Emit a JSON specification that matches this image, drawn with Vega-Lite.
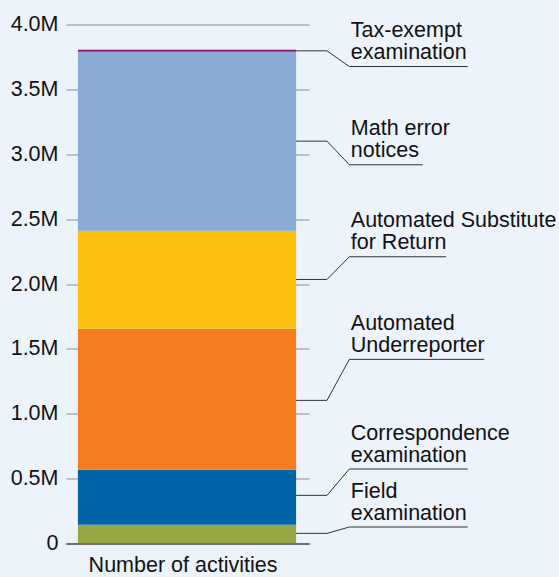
{
  "$schema": "https://vega.github.io/schema/vega-lite/v6.json",
  "width": 243,
  "height": 519,
  "autosize": {"type": "none"},
  "padding": {"left": 66, "top": 24.5, "right": 250, "bottom": 33.5},
  "background": "#edf3fa",
  "config": {"font": "Liberation Sans", "view": {"stroke": null}},
  "datasets": {
    "bars": [
      {"category": "Field examination", "value": 145000, "order": 1},
      {"category": "Correspondence examination", "value": 424000, "order": 2},
      {"category": "Automated Underreporter", "value": 1086000, "order": 3},
      {"category": "Automated Substitute for Return", "value": 755000, "order": 4},
      {"category": "Math error notices", "value": 1380000, "order": 5},
      {"category": "Tax-exempt examination", "value": 15000, "order": 6}
    ],
    "labels": [
      {"label": "Tax-exempt examination", "text": "Tax-exempt\nexamination", "y": 3676000},
      {"label": "Math error notices", "text": "Math error\nnotices", "y": 2919000},
      {"label": "Automated Substitute for Return", "text": "Automated Substitute\nfor Return", "y": 2210000},
      {"label": "Automated Underreporter", "text": "Automated\nUnderreporter", "y": 1419000},
      {"label": "Correspondence examination", "text": "Correspondence\nexamination", "y": 574000},
      {"label": "Field examination", "text": "Field\nexamination", "y": 127000}
    ],
    "leaders": [
      {"label": "Tax-exempt examination", "seq": 1, "x": 9.47, "y": 3797000},
      {"label": "Tax-exempt examination", "seq": 2, "x": 10.74, "y": 3797000},
      {"label": "Tax-exempt examination", "seq": 3, "x": 11.66, "y": 3676000},
      {"label": "Tax-exempt examination", "seq": 4, "x": 16.53, "y": 3676000},
      {"label": "Math error notices", "seq": 1, "x": 9.47, "y": 3101000},
      {"label": "Math error notices", "seq": 2, "x": 10.74, "y": 3101000},
      {"label": "Math error notices", "seq": 3, "x": 11.66, "y": 2919000},
      {"label": "Math error notices", "seq": 4, "x": 14.68, "y": 2919000},
      {"label": "Automated Substitute for Return", "seq": 1, "x": 9.47, "y": 2035000},
      {"label": "Automated Substitute for Return", "seq": 2, "x": 10.74, "y": 2035000},
      {"label": "Automated Substitute for Return", "seq": 3, "x": 11.66, "y": 2210000},
      {"label": "Automated Substitute for Return", "seq": 4, "x": 15.64, "y": 2210000},
      {"label": "Automated Underreporter", "seq": 1, "x": 9.47, "y": 1103000},
      {"label": "Automated Underreporter", "seq": 2, "x": 10.74, "y": 1103000},
      {"label": "Automated Underreporter", "seq": 3, "x": 11.66, "y": 1419000},
      {"label": "Automated Underreporter", "seq": 4, "x": 17.21, "y": 1419000},
      {"label": "Correspondence examination", "seq": 1, "x": 9.47, "y": 371000},
      {"label": "Correspondence examination", "seq": 2, "x": 10.74, "y": 371000},
      {"label": "Correspondence examination", "seq": 3, "x": 11.66, "y": 574000},
      {"label": "Correspondence examination", "seq": 4, "x": 16.53, "y": 574000},
      {"label": "Field examination", "seq": 1, "x": 9.47, "y": 78000},
      {"label": "Field examination", "seq": 2, "x": 10.74, "y": 78000},
      {"label": "Field examination", "seq": 3, "x": 11.66, "y": 127000},
      {"label": "Field examination", "seq": 4, "x": 16.53, "y": 127000}
    ]
  },
  "layer": [
    {
      "data": {"name": "bars"},
      "transform": [
        {"stack": "value", "groupby": [], "sort": [{"field": "order", "order": "ascending"}], "as": ["v0", "v1"]}
      ],
      "mark": {"type": "rect"},
      "encoding": {
        "x": {
          "datum": 0.49,
          "type": "quantitative",
          "title": "Number of activities",
          "scale": {"domain": [0, 10], "nice": false, "zero": false},
          "axis": {
            "labels": false,
            "ticks": false,
            "grid": false,
            "domain": true,
            "domainColor": "#6e6e6e",
            "domainWidth": 2,
            "zindex": 1,
            "titleFontSize": 21.5,
            "titleFontWeight": "normal",
            "titleColor": "#111111",
            "titlePadding": 11,
            "titleX": 116.5,
            "titleAlign": "center"
          }
        },
        "x2": {"datum": 9.47},
        "y": {
          "field": "v0",
          "type": "quantitative",
          "title": null,
          "scale": {"domain": [0, 4000000], "nice": false},
          "axis": {
            "values": [0, 500000, 1000000, 1500000, 2000000, 2500000, 3000000, 3500000, 4000000],
            "labelExpr": "datum.value === 0 ? '0' : format(datum.value / 1000000, '.1f') + 'M'",
            "domain": false,
            "ticks": false,
            "grid": true,
            "gridColor": "#8c8c8c",
            "gridWidth": 1,
            "labelFontSize": 21.5,
            "labelColor": "#111111",
            "labelPadding": 8
          }
        },
        "y2": {"field": "v1"},
        "color": {
          "field": "category",
          "type": "nominal",
          "scale": {
            "domain": ["Field examination", "Correspondence examination", "Automated Underreporter", "Automated Substitute for Return", "Math error notices", "Tax-exempt examination"],
            "range": ["#95a645", "#0066a8", "#f47b20", "#fec010", "#8aabd3", "#8c1a6f"]
          },
          "legend": null
        }
      }
    },
    {
      "data": {"name": "leaders"},
      "mark": {"type": "line", "color": "#333333", "strokeWidth": 1},
      "encoding": {
        "x": {"field": "x", "type": "quantitative", "title": "Number of activities"},
        "y": {"field": "y", "type": "quantitative", "title": null},
        "detail": {"field": "label"},
        "order": {"field": "seq", "type": "quantitative"}
      }
    },
    {
      "data": {"name": "labels"},
      "mark": {"type": "text", "align": "left", "baseline": "alphabetic", "dy": -29.5, "fontSize": 21.5, "lineBreak": "\n", "lineHeight": 22, "color": "#111111"},
      "encoding": {
        "x": {"datum": 11.72, "type": "quantitative", "title": "Number of activities"},
        "y": {"field": "y", "type": "quantitative", "title": null},
        "text": {"field": "text"}
      }
    }
  ]
}
